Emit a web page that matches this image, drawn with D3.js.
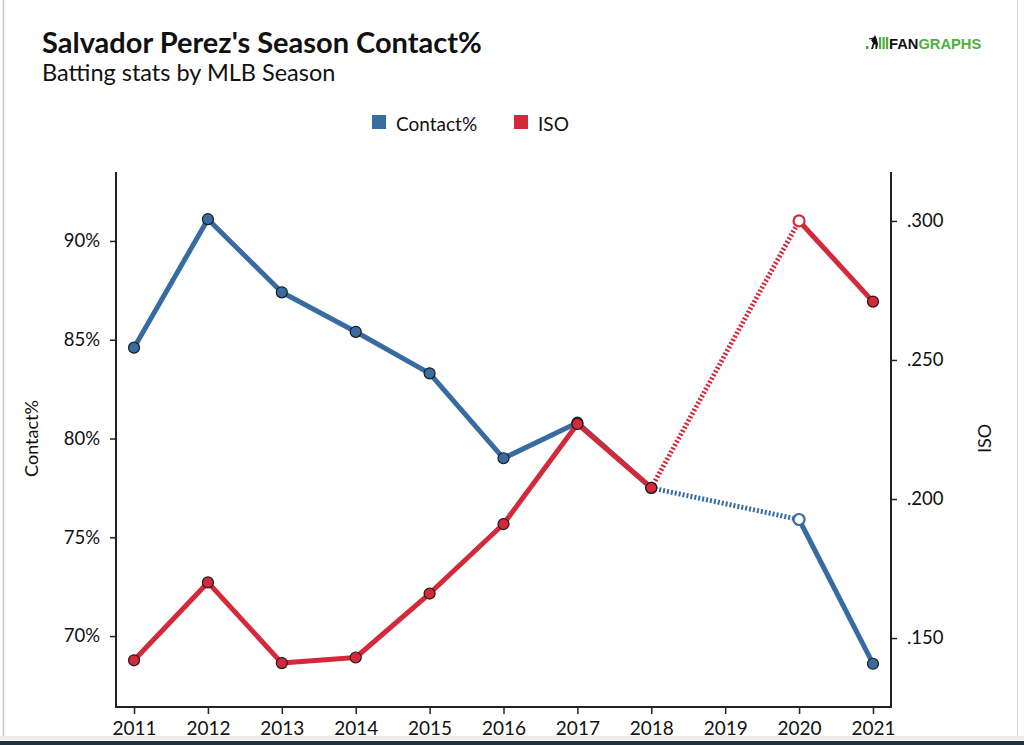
<!DOCTYPE html>
<html>
<head>
<meta charset="utf-8">
<script src="https://cdn.jsdelivr.net/npm/d3@7"></script>
<style>
  html, body { margin: 0; padding: 0; background: #fff; }
  svg { display: block; font-family: Lato, "Open Sans", sans-serif; }
</style>
</head>
<body>
<svg id="chart" width="1024" height="745"></svg>
<script>
// ---- data ----
const years = [2011, 2012, 2013, 2014, 2015, 2016, 2017, 2018, 2020, 2021];
const contactPct = [84.6, 91.1, 87.4, 85.4, 83.3, 79.0, 80.8, 77.5, 75.9, 68.6];
const iso = [0.142, 0.170, 0.141, 0.143, 0.166, 0.191, 0.227, 0.204, 0.300, 0.271];
const xTickYears = [2011, 2012, 2013, 2014, 2015, 2016, 2017, 2018, 2019, 2020, 2021];
const leftTicks = [70, 75, 80, 85, 90];
const rightTicks = [0.150, 0.200, 0.250, 0.300];
const gapAfterYear = 2018; // 2019 missing -> dotted segment
const seriesNames = ["Contact%", "ISO"];

const BLUE = "#386ca1";
const RED = "#d3293a";

const svg = d3.select("#chart");
const plot = { left: 116, right: 891, top: 172, bottom: 707 };

// frame decorations
svg.append("line").attr("x1", 3.5).attr("x2", 3.5).attr("y1", 0).attr("y2", 740)
  .attr("stroke", "#c8c8c8").attr("stroke-width", 1.5);
svg.append("line").attr("x1", 1017.5).attr("x2", 1017.5).attr("y1", 0).attr("y2", 740)
  .attr("stroke", "#d4d4d4").attr("stroke-width", 1);
svg.append("rect").attr("x", 0).attr("y", 736).attr("width", 1024).attr("height", 4).attr("fill", "#ececec");
svg.append("rect").attr("x", 0).attr("y", 741).attr("width", 1024).attr("height", 4).attr("fill", "#22303c");

// scales
const x = d3.scaleLinear().domain([2010.756, 2021.244]).range([plot.left, plot.right]);
const yL = d3.scaleLinear().domain([66.41, 93.49]).range([plot.bottom, plot.top]);
const yR = d3.scaleLinear().domain([0.1252, 0.3176]).range([plot.bottom, plot.top]);

// titles
svg.append("text").attr("x", 42).attr("y", 53)
  .attr("font-size", 29).attr("font-weight", 700).attr("fill", "#111")
  .text("Salvador Perez's Season Contact%");
svg.append("text").attr("x", 42).attr("y", 81)
  .attr("font-size", 23.5).attr("fill", "#111")
  .text("Batting stats by MLB Season");

// FanGraphs logo
const logo = svg.append("g").attr("transform", "translate(866,35)");
logo.append("rect").attr("x", 0).attr("y", 11).attr("width", 2.5).attr("height", 3).attr("fill", "#4caf3e");
logo.append("path").attr("d", "M5,14 L7,8 L5,5 L8,2 L9,0 L10,2 L11,5 L12,9 L11,14 L9.5,14 L9.5,9 L8,10 L7,14 Z")
  .attr("fill", "#111");
logo.append("path").attr("d", "M3,4 L8,3").attr("stroke", "#111").attr("stroke-width", 1.2);
logo.append("rect").attr("x", 13).attr("y", 2).attr("width", 2.2).attr("height", 12).attr("fill", "#4caf3e");
logo.append("rect").attr("x", 16.5).attr("y", 2).attr("width", 2.2).attr("height", 12).attr("fill", "#4caf3e");
logo.append("rect").attr("x", 20).attr("y", 2).attr("width", 2.2).attr("height", 12).attr("fill", "#4caf3e");
const logoText = logo.append("text").attr("x", 23).attr("y", 14)
  .attr("font-family", "'Liberation Sans', Arial, sans-serif").attr("font-weight", 700)
  .attr("font-size", 14.7);
logoText.append("tspan").attr("fill", "#111").text("FAN");
logoText.append("tspan").attr("fill", "#4caf3e").text("GRAPHS");

// legend
const legend = svg.append("g");
[[372, BLUE, seriesNames[0]], [514, RED, seriesNames[1]]].forEach(([lx, c, t]) => {
  legend.append("rect").attr("x", lx).attr("y", 115).attr("width", 14).attr("height", 14).attr("fill", c);
  legend.append("text").attr("x", lx + 24).attr("y", 131).attr("font-size", 19).attr("fill", "#111").text(t);
});

// axes
const axisColor = "#222";
const gL = svg.append("g").attr("transform", `translate(${plot.left},0)`)
  .call(d3.axisLeft(yL).tickValues(leftTicks).tickSize(6).tickPadding(10).tickFormat(d => d + "%"));
const gR = svg.append("g").attr("transform", `translate(${plot.right},0)`)
  .call(d3.axisRight(yR).tickValues(rightTicks).tickSize(6).tickPadding(10).tickFormat(d => d3.format(".3f")(d).replace(/^0/, "")));
const gX = svg.append("g").attr("transform", `translate(0,${plot.bottom})`)
  .call(d3.axisBottom(x).tickValues(xTickYears).tickSize(7).tickPadding(8).tickFormat(d3.format("d")));
[gL, gR, gX].forEach(g => {
  g.select(".domain").remove();
  g.selectAll(".tick line").attr("stroke", axisColor).attr("stroke-width", 1.5);
  g.selectAll(".tick text").attr("font-family", "Lato, sans-serif").attr("font-size", 18.5).attr("fill", "#111");
});
gX.selectAll(".tick text").attr("font-size", 19);

// plot frame (left, bottom, right)
svg.append("path")
  .attr("d", `M${plot.left},${plot.top}V${plot.bottom}H${plot.right}V${plot.top}`)
  .attr("fill", "none").attr("stroke", axisColor).attr("stroke-width", 2);

// axis titles
svg.append("text").attr("transform", `translate(38,${(plot.top + plot.bottom) / 2 - 1}) rotate(-90)`)
  .attr("text-anchor", "middle").attr("font-size", 18).attr("fill", "#111").text("Contact%");
svg.append("text").attr("transform", `translate(991,${(plot.top + plot.bottom) / 2 - 1}) rotate(-90)`)
  .attr("text-anchor", "middle").attr("font-size", 18).attr("fill", "#111").text("ISO");

// series
function drawSeries(vals, yScale, color) {
  const pts = years.map((yr, i) => ({ yr, v: vals[i] }));
  const solidA = pts.filter(p => p.yr <= gapAfterYear);
  const gapIdx = years.indexOf(gapAfterYear);
  const dotted = pts.slice(gapIdx, gapIdx + 2);
  const solidB = pts.slice(gapIdx + 1);
  const line = d3.line().x(p => x(p.yr)).y(p => yScale(p.v));
  const g = svg.append("g");
  g.append("path").attr("d", line(dotted)).attr("fill", "none").attr("stroke", color)
    .attr("stroke-width", 5).attr("stroke-dasharray", "2,2");
  [solidA, solidB].forEach(seg => {
    g.append("path").attr("d", line(seg)).attr("fill", "none").attr("stroke", color)
      .attr("stroke-width", 5).attr("stroke-linejoin", "round");
  });
  g.selectAll("circle").data(pts).join("circle")
    .attr("cx", p => x(p.yr)).attr("cy", p => yScale(p.v)).attr("r", 5.5)
    .attr("fill", p => p.yr === years[gapIdx + 1] ? "#fff" : color)
    .attr("stroke", p => p.yr === years[gapIdx + 1] ? color : "#1a1a1a")
    .attr("stroke-width", p => p.yr === years[gapIdx + 1] ? 2.2 : 1.2);
}
drawSeries(contactPct, yL, BLUE);
drawSeries(iso, yR, RED);
</script>
</body>
</html>
